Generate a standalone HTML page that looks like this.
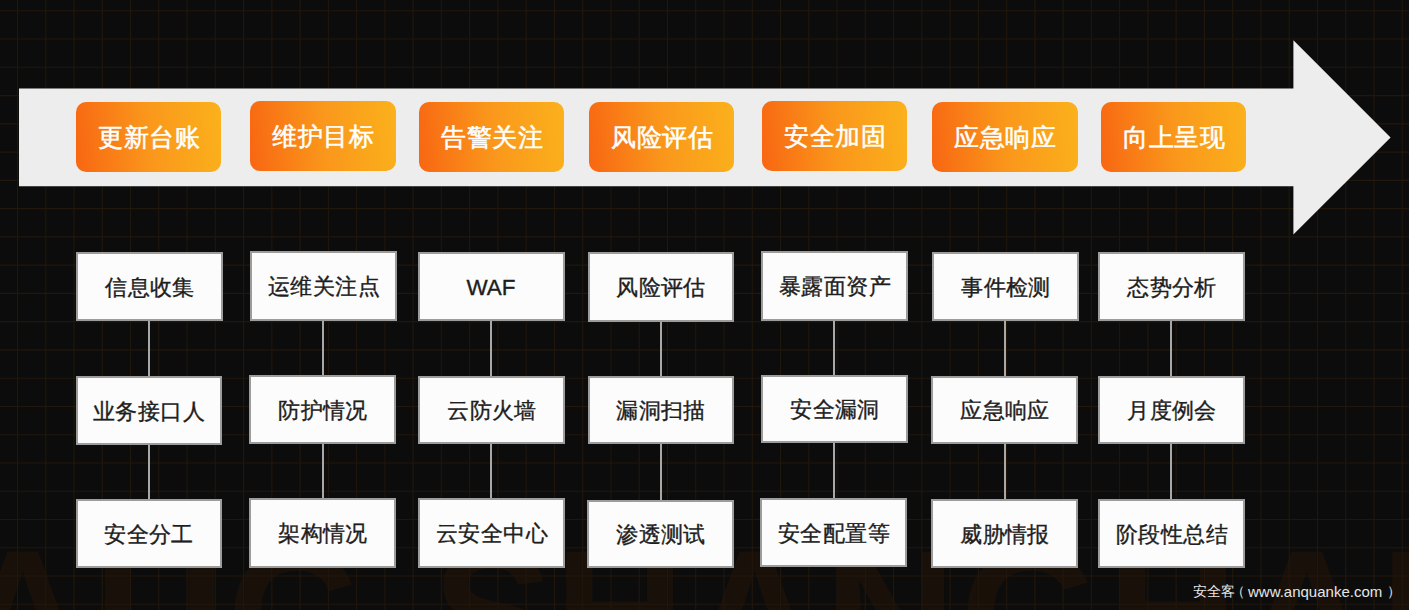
<!DOCTYPE html>
<html><head><meta charset="utf-8"><style>
html,body{margin:0;padding:0;}
body{width:1409px;height:610px;position:relative;overflow:hidden;background:#0c0c0c;font-family:"Liberation Sans",sans-serif;}
.bg{position:absolute;left:0;top:0;}
.arrow{position:absolute;left:0;top:0;}
.btn{position:absolute;box-sizing:border-box;border-radius:10px;background:linear-gradient(84deg,#f86612 0%,#fa971b 50%,#fbb11c 100%);
color:#fff;font-size:25px;-webkit-text-stroke:0.5px #fff;display:flex;align-items:center;justify-content:center;letter-spacing:0px;}
.box{position:absolute;box-sizing:border-box;border:2px solid #9c9c9c;background:#fcfcfc;color:#1e1e1e;font-size:22px;-webkit-text-stroke:0.35px #1e1e1e;
display:flex;align-items:center;justify-content:center;}
.bt{display:inline-block;transform:scale(1.02);}
.xt{display:inline-block;transform:translateY(0.6px) scale(1.02);}
.ln{position:absolute;width:2px;background:#a8a8a8;}
.wm{position:absolute;top:583px;color:#e6e6e6;font-size:14px;white-space:nowrap;}
</style></head><body>
<svg class="bg" width="1409" height="610" viewBox="0 0 1409 610"><g font-family="Liberation Sans" font-weight="bold" font-size="182" fill="#181009"><text x="-43" y="677">A</text><text x="94" y="677">U</text><text x="227" y="677">C</text><text x="432" y="677">S</text><text x="554" y="677">H</text><text x="689" y="677">A</text><text x="825" y="677">N</text><text x="960" y="677">G</text><text x="1107" y="677">H</text><text x="1241" y="677">A</text><text x="1380" y="677">I</text></g></svg>
<svg class="bg" width="1409" height="610" viewBox="0 0 1409 610"><g stroke="#22170c" stroke-width="1.1"><line x1="-10.76" y1="0" x2="-10.76" y2="610"/><line x1="17.50" y1="0" x2="17.50" y2="610"/><line x1="45.76" y1="0" x2="45.76" y2="610"/><line x1="74.02" y1="0" x2="74.02" y2="610"/><line x1="102.28" y1="0" x2="102.28" y2="610"/><line x1="130.54" y1="0" x2="130.54" y2="610"/><line x1="158.80" y1="0" x2="158.80" y2="610"/><line x1="187.06" y1="0" x2="187.06" y2="610"/><line x1="215.32" y1="0" x2="215.32" y2="610"/><line x1="243.58" y1="0" x2="243.58" y2="610"/><line x1="271.84" y1="0" x2="271.84" y2="610"/><line x1="300.10" y1="0" x2="300.10" y2="610"/><line x1="328.36" y1="0" x2="328.36" y2="610"/><line x1="356.62" y1="0" x2="356.62" y2="610"/><line x1="384.88" y1="0" x2="384.88" y2="610"/><line x1="413.14" y1="0" x2="413.14" y2="610"/><line x1="441.40" y1="0" x2="441.40" y2="610"/><line x1="469.66" y1="0" x2="469.66" y2="610"/><line x1="497.92" y1="0" x2="497.92" y2="610"/><line x1="526.18" y1="0" x2="526.18" y2="610"/><line x1="554.44" y1="0" x2="554.44" y2="610"/><line x1="582.70" y1="0" x2="582.70" y2="610"/><line x1="610.96" y1="0" x2="610.96" y2="610"/><line x1="639.22" y1="0" x2="639.22" y2="610"/><line x1="667.48" y1="0" x2="667.48" y2="610"/><line x1="695.74" y1="0" x2="695.74" y2="610"/><line x1="724.00" y1="0" x2="724.00" y2="610"/><line x1="752.26" y1="0" x2="752.26" y2="610"/><line x1="780.52" y1="0" x2="780.52" y2="610"/><line x1="808.78" y1="0" x2="808.78" y2="610"/><line x1="837.04" y1="0" x2="837.04" y2="610"/><line x1="865.30" y1="0" x2="865.30" y2="610"/><line x1="893.56" y1="0" x2="893.56" y2="610"/><line x1="921.82" y1="0" x2="921.82" y2="610"/><line x1="950.08" y1="0" x2="950.08" y2="610"/><line x1="978.34" y1="0" x2="978.34" y2="610"/><line x1="1006.60" y1="0" x2="1006.60" y2="610"/><line x1="1034.86" y1="0" x2="1034.86" y2="610"/><line x1="1063.12" y1="0" x2="1063.12" y2="610"/><line x1="1091.38" y1="0" x2="1091.38" y2="610"/><line x1="1119.64" y1="0" x2="1119.64" y2="610"/><line x1="1147.90" y1="0" x2="1147.90" y2="610"/><line x1="1176.16" y1="0" x2="1176.16" y2="610"/><line x1="1204.42" y1="0" x2="1204.42" y2="610"/><line x1="1232.68" y1="0" x2="1232.68" y2="610"/><line x1="1260.94" y1="0" x2="1260.94" y2="610"/><line x1="1289.20" y1="0" x2="1289.20" y2="610"/><line x1="1317.46" y1="0" x2="1317.46" y2="610"/><line x1="1345.72" y1="0" x2="1345.72" y2="610"/><line x1="1373.98" y1="0" x2="1373.98" y2="610"/><line x1="1402.24" y1="0" x2="1402.24" y2="610"/><line x1="0" y1="10.80" x2="1409" y2="10.80"/><line x1="0" y1="39.06" x2="1409" y2="39.06"/><line x1="0" y1="67.32" x2="1409" y2="67.32"/><line x1="0" y1="95.58" x2="1409" y2="95.58"/><line x1="0" y1="123.84" x2="1409" y2="123.84"/><line x1="0" y1="152.10" x2="1409" y2="152.10"/><line x1="0" y1="180.36" x2="1409" y2="180.36"/><line x1="0" y1="208.62" x2="1409" y2="208.62"/><line x1="0" y1="236.88" x2="1409" y2="236.88"/><line x1="0" y1="265.14" x2="1409" y2="265.14"/><line x1="0" y1="293.40" x2="1409" y2="293.40"/><line x1="0" y1="321.66" x2="1409" y2="321.66"/><line x1="0" y1="349.92" x2="1409" y2="349.92"/><line x1="0" y1="378.18" x2="1409" y2="378.18"/><line x1="0" y1="406.44" x2="1409" y2="406.44"/><line x1="0" y1="434.70" x2="1409" y2="434.70"/><line x1="0" y1="462.96" x2="1409" y2="462.96"/><line x1="0" y1="491.22" x2="1409" y2="491.22"/><line x1="0" y1="519.48" x2="1409" y2="519.48"/><line x1="0" y1="547.74" x2="1409" y2="547.74"/><line x1="0" y1="576.00" x2="1409" y2="576.00"/><line x1="0" y1="604.26" x2="1409" y2="604.26"/></g></svg>

<svg class="arrow" width="1409" height="610" viewBox="0 0 1409 610">
<polygon points="19,88.6 1293.4,88.6 1293.4,40.2 1390.6,137.4 1293.4,234.6 1293.4,186.2 19,186.2" fill="#ededed"/>
</svg>
<div class="ln" style="left:148.3px;top:321px;height:178px"></div><div class="ln" style="left:322.3px;top:321px;height:177px"></div><div class="ln" style="left:490.1px;top:321px;height:177px"></div><div class="ln" style="left:660.2px;top:322px;height:178px"></div><div class="ln" style="left:833.4px;top:321px;height:177px"></div><div class="ln" style="left:1004.0px;top:321px;height:178px"></div><div class="ln" style="left:1170.1px;top:321px;height:178px"></div><div class="btn" style="left:76px;top:102px;width:145px;height:70px"><span class="bt">更新台账</span></div><div class="btn" style="left:250px;top:101px;width:146px;height:70px"><span class="bt">维护目标</span></div><div class="btn" style="left:419px;top:102px;width:145px;height:70px"><span class="bt">告警关注</span></div><div class="btn" style="left:589px;top:102px;width:145px;height:70px"><span class="bt">风险评估</span></div><div class="btn" style="left:762px;top:101px;width:145px;height:70px"><span class="bt">安全加固</span></div><div class="btn" style="left:932px;top:102px;width:146px;height:70px"><span class="bt">应急响应</span></div><div class="btn" style="left:1101px;top:102px;width:145px;height:70px"><span class="bt">向上呈现</span></div><div class="box" style="left:76px;top:252px;width:147px;height:69px"><span class="xt">信息收集</span></div><div class="box" style="left:250px;top:251px;width:147px;height:70px"><span class="xt">运维关注点</span></div><div class="box" style="left:418px;top:252px;width:147px;height:69px"><span class="xt">WAF</span></div><div class="box" style="left:588px;top:252px;width:146px;height:70px"><span class="xt">风险评估</span></div><div class="box" style="left:761px;top:251px;width:147px;height:70px"><span class="xt">暴露面资产</span></div><div class="box" style="left:932px;top:252px;width:147px;height:69px"><span class="xt">事件检测</span></div><div class="box" style="left:1098px;top:252px;width:147px;height:69px"><span class="xt">态势分析</span></div><div class="box" style="left:76px;top:376px;width:146px;height:69px"><span class="xt">业务接口人</span></div><div class="box" style="left:249px;top:375px;width:147px;height:69px"><span class="xt">防护情况</span></div><div class="box" style="left:418px;top:376px;width:147px;height:68px"><span class="xt">云防火墙</span></div><div class="box" style="left:588px;top:376px;width:146px;height:68px"><span class="xt">漏洞扫描</span></div><div class="box" style="left:761px;top:375px;width:147px;height:68px"><span class="xt">安全漏洞</span></div><div class="box" style="left:931px;top:376px;width:147px;height:68px"><span class="xt">应急响应</span></div><div class="box" style="left:1098px;top:376px;width:147px;height:68px"><span class="xt">月度例会</span></div><div class="box" style="left:76px;top:499px;width:146px;height:69px"><span class="xt">安全分工</span></div><div class="box" style="left:249px;top:498px;width:147px;height:70px"><span class="xt">架构情况</span></div><div class="box" style="left:418px;top:498px;width:147px;height:70px"><span class="xt">云安全中心</span></div><div class="box" style="left:587px;top:500px;width:147px;height:68px"><span class="xt">渗透测试</span></div><div class="box" style="left:760px;top:498px;width:147px;height:69px"><span class="xt">安全配置等</span></div><div class="box" style="left:931px;top:499px;width:147px;height:69px"><span class="xt">威胁情报</span></div><div class="box" style="left:1098px;top:499px;width:147px;height:69px"><span class="xt">阶段性总结</span></div>
<div class="wm" style="left:1193px">安全客</div><div class="wm" style="left:1231px">（</div><div class="wm" style="left:1248px;font-size:15px;top:583px">www.anquanke.com</div><div class="wm" style="left:1387px">）</div>
</body></html>
